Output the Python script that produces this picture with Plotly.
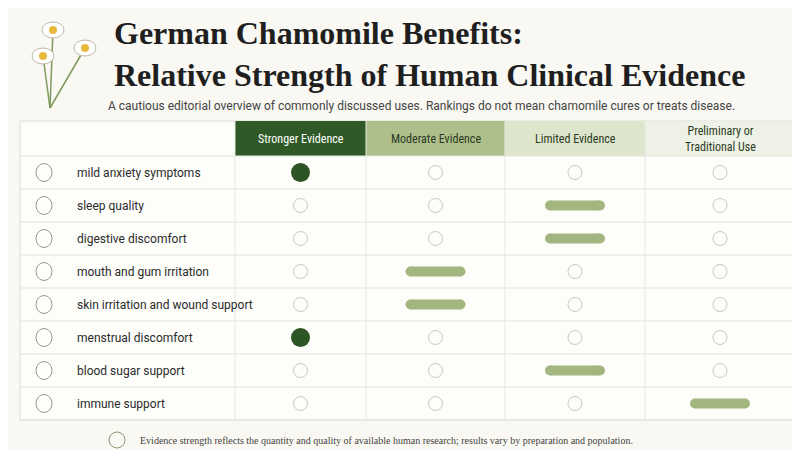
import plotly.graph_objects as go

categories = ["mild anxiety symptoms", "sleep quality", "digestive discomfort", "mouth and gum irritation",
              "skin irritation and wound support", "menstrual discomfort", "blood sugar support", "immune support"]
columns = ["Stronger Evidence", "Moderate Evidence", "Limited Evidence", "Preliminary or<br>Traditional Use"]
levels = [0, 2, 2, 1, 1, 0, 2, 3]  # index into columns

col_edges = [12, 227, 358, 497, 637, 787]
col_cx = [(col_edges[i+1] + col_edges[i+2]) / 2 for i in range(4)]
top, head_bot, bot = 113, 148, 412
row_h = (bot - head_bot) / len(categories)
row_cy = [head_bot + row_h * (i + 0.5) for i in range(len(categories))]

head_fill = ["#2f5a27", "#aebf8c", "#dde5cc", "#eef1e6"]
head_font = ["white", "#2b3a22", "#2b3a22", "#2b3a22"]
bar_col = "#a4b67f"

fig = go.Figure()
shapes = []
shapes.append(dict(type="rect", x0=12, x1=787, y0=top, y1=bot, line=dict(color="#dcdcd2", width=1),
                   fillcolor="#fdfdfa", layer="below"))
for i in range(4):
    shapes.append(dict(type="rect", x0=col_edges[i+1], x1=col_edges[i+2], y0=top, y1=head_bot,
                       line=dict(width=0), fillcolor=head_fill[i], layer="below"))
for i in range(len(categories) + 1):
    y = head_bot + row_h * i
    shapes.append(dict(type="line", x0=12, x1=787, y0=y, y1=y, line=dict(color="#e4e4dc", width=1)))
for x in col_edges[1:-1]:
    shapes.append(dict(type="line", x0=x, x1=x, y0=top, y1=bot, line=dict(color="#e8e8e0", width=1)))

ex, ey = [], []
for r, lv in enumerate(levels):
    for c in range(4):
        if c != lv:
            ex.append(col_cx[c]); ey.append(row_cy[r])
fig.add_trace(go.Scatter(x=ex, y=ey, mode="markers",
                         marker=dict(size=14, color="rgba(0,0,0,0)", line=dict(color="#c9c9c0", width=1))))
sx = [col_cx[lv] for lv in levels if lv == 0]
sy = [row_cy[r] for r, lv in enumerate(levels) if lv == 0]
fig.add_trace(go.Scatter(x=sx, y=sy, mode="markers", marker=dict(size=19, color="#2d5424")))
for r, lv in enumerate(levels):
    if lv > 0:
        fig.add_trace(go.Scatter(x=[col_cx[lv] - 25, col_cx[lv] + 25], y=[row_cy[r]] * 2, mode="lines",
                                 line=dict(color=bar_col, width=10)))
        for dx in (-25, 25):
            fig.add_trace(go.Scatter(x=[col_cx[lv] + dx], y=[row_cy[r]], mode="markers",
                                     marker=dict(size=10, color=bar_col)))

ann = []
for i, c in enumerate(columns):
    ann.append(dict(x=col_cx[i], y=(top + head_bot) / 2, text=c, showarrow=False,
                    font=dict(size=12, color=head_font[i], family="Roboto Condensed, Roboto, sans-serif")))
for r, c in enumerate(categories):
    ann.append(dict(x=67, y=row_cy[r], text=c, xanchor="left", showarrow=False,
                    font=dict(size=12, color="#2b2b2b", family="Roboto, sans-serif")))
    shapes.append(dict(type="circle", x0=28, x1=44, y0=row_cy[r] - 9, y1=row_cy[r] + 9,
                       line=dict(color="#9a9a92", width=1)))
ann.append(dict(x=104, y=25, text="<b>German Chamomile Benefits:</b>", xanchor="left", showarrow=False,
                font=dict(size=32, color="#1f1f1f", family="Liberation Serif, serif")))
ann.append(dict(x=104, y=67, text="<b>Relative Strength of Human Clinical Evidence</b>", xanchor="left", showarrow=False,
                font=dict(size=32, color="#1f1f1f", family="Liberation Serif, serif")))
ann.append(dict(x=98, y=98, text="A cautious editorial overview of commonly discussed uses. Rankings do not mean chamomile cures or treats disease.",
                xanchor="left", showarrow=False, font=dict(size=12, color="#444", family="Roboto, sans-serif")))
ann.append(dict(x=130, y=432, text="Evidence strength reflects the quantity and quality of available human research; results vary by preparation and population.",
                xanchor="left", showarrow=False, font=dict(size=10, color="#444", family="Liberation Serif, serif")))
shapes.append(dict(type="circle", x0=101, x1=117, y0=424, y1=440, line=dict(color="#8a9a75", width=1)))
for fx, fy in [(45, 22), (35, 48), (77, 40)]:
    shapes.append(dict(type="line", x0=fx, y0=fy, x1=42, y1=100, line=dict(color="#7f9a5c", width=1.5)))
    shapes.append(dict(type="circle", x0=fx - 11, x1=fx + 11, y0=fy - 8, y1=fy + 8, fillcolor="white",
                       line=dict(color="#bbbbb0", width=1)))
    shapes.append(dict(type="circle", x0=fx - 4, x1=fx + 4, y0=fy - 4, y1=fy + 4, fillcolor="#e7b93a",
                       line=dict(width=0)))

fig.update_layout(width=800, height=450, margin=dict(l=0, r=0, t=0, b=0), showlegend=False,
                  paper_bgcolor="#f9f8f3", plot_bgcolor="#f9f8f3", shapes=shapes, annotations=ann,
                  xaxis=dict(range=[0, 800], visible=False, fixedrange=True),
                  yaxis=dict(range=[450, 0], visible=False, fixedrange=True))
fig.write_html("out.html")
